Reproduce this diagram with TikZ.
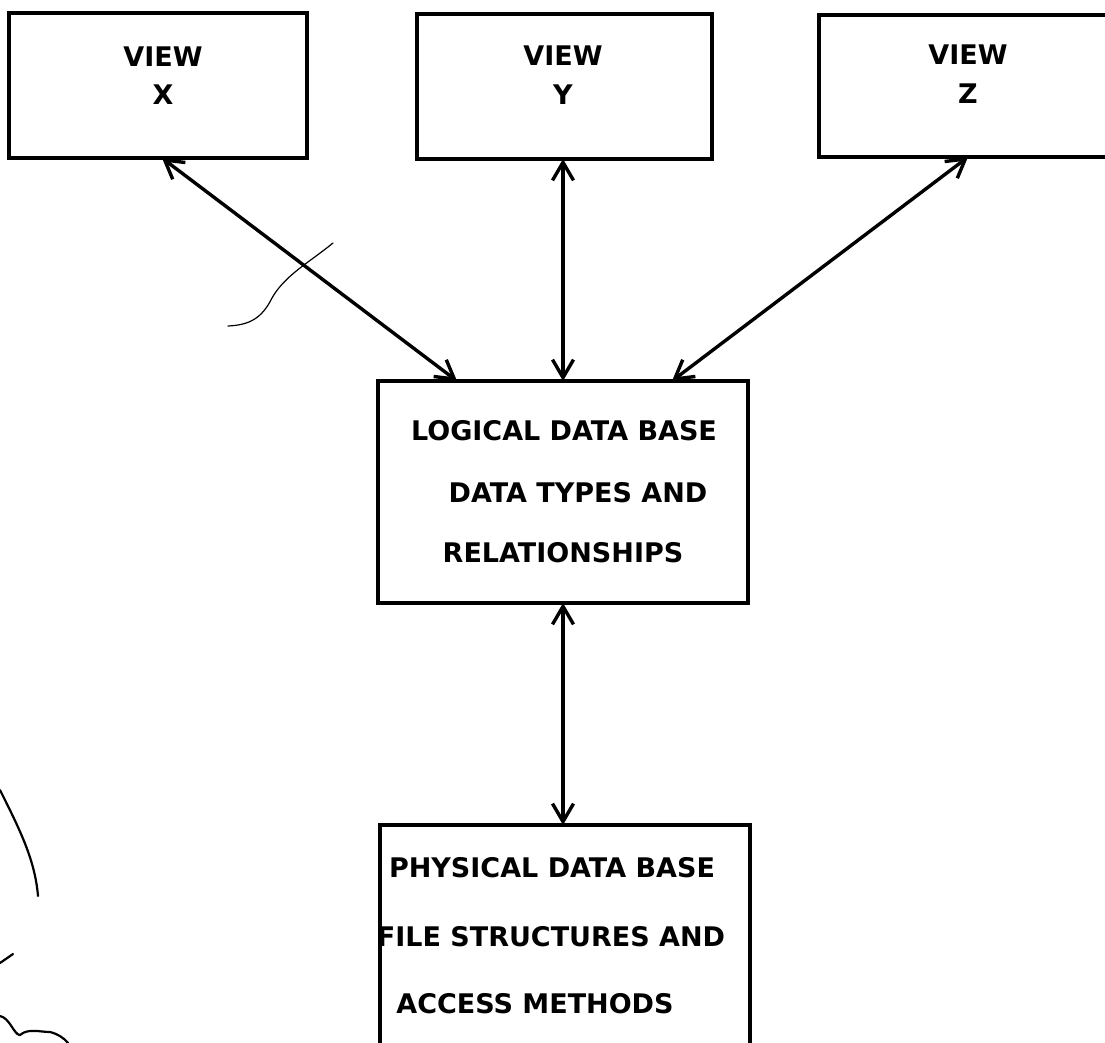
\documentclass[tikz,border=0pt]{standalone}
\usepackage{fontspec}
\setmainfont{DejaVu Sans}
\newfontfamily\letterface{DejaVu Sans Bold}
\usetikzlibrary{arrows.meta,calc}
\begin{document}
\begin{tikzpicture}[x=1pt,y=-1pt,
  frame/.style={draw, line width=4pt, inner sep=0pt, outer sep=0pt},
  caption/.style={font=\letterface\fontsize{27}{33}\selectfont, inner sep=0pt, anchor=base},
  link/.style={line width=3.4pt,
    {Straight Barb[length=18pt,width=21pt]}-{Straight Barb[length=18pt,width=21pt]}},
  stray/.style={line width=#1, line cap=round}]
\useasboundingbox (0,0) rectangle (1105,1043);
\fill[white] (0,0) rectangle (1105,1043);

% view boxes
\node[frame, minimum width=298pt, minimum height=145pt] (vx) at (158,85.5) {};
\node[frame, minimum width=295pt, minimum height=145pt] (vy) at (564.5,86.5) {};
\node[frame, minimum width=301pt, minimum height=142pt] (vz) at (969.5,86) {};

% logical and physical data base boxes
\node[frame, minimum width=370pt, minimum height=222pt] (lg) at (563,492) {};
\node[frame, minimum width=370pt, minimum height=245pt] (ph) at (565,947.5) {};

% captions
\node[caption] (vx1) at (163,67) {VIEW};
\node[caption] (vx2) at (163,105) {X};
\node[caption] (vy1) at (563,66) {VIEW};
\node[caption] (vy2) at (563,105) {Y};
\node[caption] (vz1) at (968,65) {VIEW};
\node[caption] (vz2) at (968,104) {Z};

\node[caption] (lg1) at (564,440) {LOGICAL DATA BASE};
\node[caption] (lg2) at (578,502) {DATA TYPES AND};
\node[caption] (lg3) at (563,562) {RELATIONSHIPS};

\node[caption] (ph1) at (552,877) {PHYSICAL DATA BASE};
\node[caption] (ph2) at (551,946) {FILE STRUCTURES AND};
\node[caption] (ph3) at (535,1013) {ACCESS METHODS};

% connectors
\draw[link] ($(vx.south)+(4,0)$) -- ($(lg.north)+(-106,0)$);
\draw[link] ($(vy.south)+(-1.5,0)$) -- (lg.north);
\draw[link] ($(vz.south)+(-1.5,0)$) -- ($(lg.north)+(109,0)$);
\draw[link] (lg.south) -- ($(ph.north)+(-2,0)$);

% pen strokes in the margins
\draw[stray=1.2pt] (333,243) .. controls (310,262) and (285,275) .. (272,298)
  .. controls (262,318) and (250,325) .. (228,326);
\draw[stray=2.2pt] (0,790) .. controls (20,830) and (35,860) .. (38,896);
\draw[stray=2.2pt] (0,963) -- (13,954);
\draw[stray=2.2pt] (0,1016) .. controls (10,1018) and (14,1035) .. (20,1035)
  .. controls (28,1028) and (40,1032) .. (50,1032)
  .. controls (58,1034) and (64,1038) .. (68,1043);
\end{tikzpicture}
\end{document}
